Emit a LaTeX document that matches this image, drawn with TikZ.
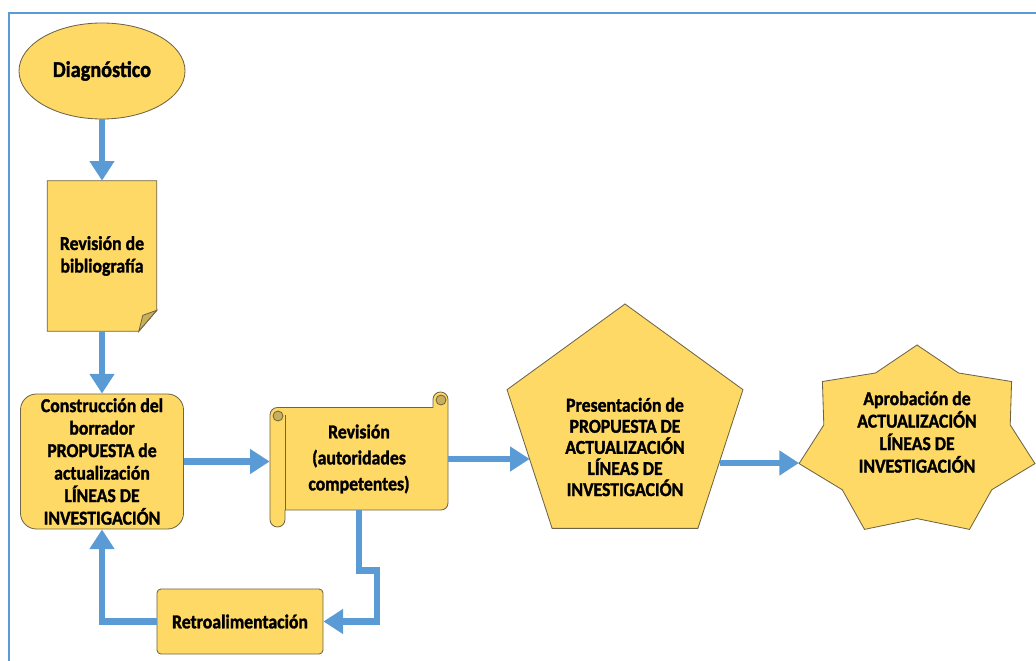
\documentclass[tikz,border=0pt]{standalone}
\usepackage{fontspec}
\setmainfont{Carlito}[FakeStretch=0.9, BoldFeatures={FakeBold=1.5}]
\usepackage{tikz}
\usetikzlibrary{shapes,arrows.meta,positioning,calc,backgrounds}

\definecolor{boxfill}{HTML}{FFD966}
\definecolor{boxline}{HTML}{6E6448}
\definecolor{foldfill}{HTML}{C9AE5C}
\definecolor{flowblue}{HTML}{5B9BD5}

\begin{document}
\begin{tikzpicture}[x=0.025cm, y=0.025cm,
    shapebox/.style={draw=boxline, fill=boxfill, line width=0.6pt},
    txt/.style={font=\bfseries\fontsize{14}{16}\selectfont, align=center, text=black, inner sep=1pt},
    flow/.style={-{Triangle[length=14pt,width=17pt]}, draw=flowblue, line width=4.6pt},
    frame/.style={draw=flowblue, line width=1.4pt}
]
\useasboundingbox (0,0) rectangle (1036,-661);
\clip (0,0) rectangle (1036,-661);

% Frame
\draw[frame] (9,-13) rectangle (1045,-675);

% Start
\node[ellipse, shapebox, minimum width=4.15cm, minimum height=2.4cm, txt, font=\bfseries\fontsize{16}{18}\selectfont] at (102,-71) (diag) {Diagnóstico};

% Bibliography (document shape)
\node[txt, minimum width=2.725cm, minimum height=3.75cm] at (102,-256) (bib) {Revisión de\\bibliografía};
\begin{scope}[on background layer]
\draw[shapebox] (bib.north west) -- (bib.north east) -- ($(bib.south east)+(0,21)$) -- ($(bib.south east)+(-18,0)$) -- (bib.south west) -- cycle;
\draw[boxline, fill=foldfill, line width=0.6pt] ($(bib.south east)+(0,21)$) -- ($(bib.south east)+(-18,0)$) -- ($(bib.south east)+(-14,16)$) -- cycle;
\end{scope}

% Draft
\node[shapebox, rounded corners=0.4cm, minimum width=4.075cm, minimum height=3.375cm, txt] at (102,-461.5) (constr) {Construcción del\\borrador\\PROPUESTA de\\actualización\\LÍNEAS DE\\INVESTIGACIÓN};

% Review (scroll)
\node[txt, font=\bfseries\fontsize{14}{18.5}\selectfont, minimum width=4.45cm, minimum height=2.55cm] at (359,-459) (rev) {Revisión\\(autoridades\\competentes)};
\begin{scope}[on background layer]
\draw[shapebox] (270,-519.5) -- (270,-415) arc[start angle=180, end angle=90, radius=7.5]
    -- (433,-407.5) -- (433,-399.5) arc[start angle=180, end angle=0, radius=7.5]
    -- (448,-503) arc[start angle=0, end angle=-90, radius=7]
    -- (285,-510) -- (285,-519.5) arc[start angle=0, end angle=-180, radius=7.5] -- cycle;
\draw[boxline, line width=0.6pt] (285,-415) -- (285,-510);
\draw[boxline, fill=foldfill, line width=0.6pt] (278,-416) circle[radius=5];
\draw[boxline, fill=foldfill, line width=0.6pt] (441,-400) circle[radius=5];
\end{scope}

% Feedback
\node[shapebox, rounded corners=0.1cm, minimum width=4.15cm, minimum height=1.625cm, txt] at (240,-621.5) (retro) {Retroalimentación};

% Presentation (pentagon)
\node[regular polygon, regular polygon sides=5, shapebox, minimum size=6.2cm] at (625,-428) (pres) {};
\node[txt, font=\bfseries\fontsize{14}{15}\selectfont] at (625,-447) (prestext) {Presentación de\\PROPUESTA DE\\ACTUALIZACIÓN\\LÍNEAS DE\\INVESTIGACIÓN};

% Approval (star)
\begin{scope}[shift={(917,-442)}]
\draw[shapebox] (90:121 and 97) \foreach \k in {0,...,6} {
    -- ({115.714+\k*51.4286}:95.6 and 76.6) -- ({141.4286+\k*51.4286}:121 and 97) } -- cycle;
\end{scope}
\node[txt] at (917,-432) (apro) {Aprobación de\\ACTUALIZACIÓN\\LÍNEAS DE\\INVESTIGACIÓN};
\coordinate (aprow) at (799,-463);

% Arrows
\draw[flow] (diag.south) -- (bib.north);
\draw[flow] (bib.south) -- (constr.north);
\draw[flow] (constr.east) -- (constr.east -| rev.west);
\draw[flow] (rev.east) -- (rev.east -| pres.199);
\draw[flow] (pres.-19 |- aprow) -- (aprow);
\draw[flow] (rev.south) -- ++(0,-60) -- ++(18,0) |- (retro.east);
\draw[flow] (retro.west) -| (constr.south);

\end{tikzpicture}
\end{document}
